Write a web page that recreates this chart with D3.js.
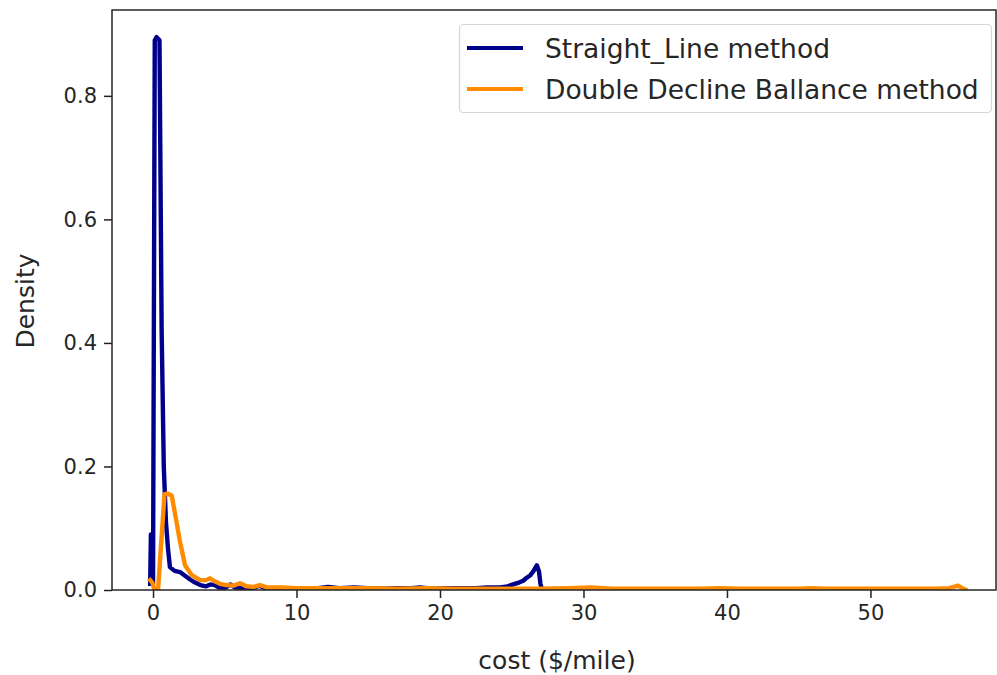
<!DOCTYPE html>
<html><head><meta charset="utf-8">
<script src="https://cdn.jsdelivr.net/npm/d3@7"></script>
<style>
html,body{margin:0;padding:0;background:#fff;}
svg{display:block;font-family:"DejaVu Sans",sans-serif;}
</style></head>
<body><svg id="c" width="997" height="675"></svg>
<script>
// ---- data ----
const seriesNames = ["Straight_Line method", "Double Decline Ballance method"];
const seriesColors = ["#00008b", "#ff8c00"];
const xTicks = [0, 10, 20, 30, 40, 50];
const yTicks = [0.0, 0.2, 0.4, 0.6, 0.8];
const xLabel = "cost ($/mile)";
const yLabel = "Density";

const straightX = [-0.2, -0.15, -0.08, 0.0, 0.12, 0.25, 0.45, 0.6, 0.75, 0.9, 1.05, 1.18, 1.5, 1.88, 2.23, 2.58, 2.93, 3.3, 3.7, 4.0, 4.3, 4.6, 5.0, 5.4, 5.7, 6.1, 6.6, 7.0, 7.4, 7.8, 8.5, 9.5, 10.5, 11.5, 12.2, 13.0, 14.0, 15.0, 16.0, 17.0, 18.0, 18.6, 19.5, 20.5, 21.5, 22.5, 23.3, 24.2, 24.7, 25.1, 25.5, 25.8, 26.0, 26.3, 26.5, 26.75, 26.9, 27.0, 27.1];
const straightY = [0.01, 0.09, 0.088, 0.01, 0.89, 0.895, 0.89, 0.42, 0.2, 0.11, 0.065, 0.037, 0.031, 0.029, 0.023, 0.017, 0.012, 0.008, 0.006, 0.009, 0.008, 0.004, 0.003, 0.009, 0.004, 0.003, 0.004, 0.003, 0.007, 0.003, 0.003, 0.003, 0.002, 0.003, 0.005, 0.003, 0.004, 0.003, 0.002, 0.003, 0.003, 0.004, 0.002, 0.003, 0.003, 0.003, 0.004, 0.004, 0.006, 0.009, 0.012, 0.015, 0.019, 0.024, 0.03, 0.04, 0.03, 0.01, 0.002];

const doubleX = [-0.2, -0.05, 0.1, 0.35, 0.55, 0.8, 1.0, 1.3, 1.6, 1.88, 2.23, 2.7, 3.28, 3.7, 3.97, 4.3, 4.67, 5.1, 5.6, 6.06, 6.5, 7.0, 7.45, 8.0, 9.0, 10.0, 11.0, 12.0, 13.5, 15.0, 17.0, 19.0, 21.0, 23.0, 25.0, 27.0, 29.0, 30.5, 32.0, 34.0, 36.0, 38.0, 39.5, 41.0, 43.0, 45.0, 45.8, 47.0, 49.0, 51.0, 53.0, 54.5, 55.5, 56.1, 56.4, 56.6];
const doubleY = [0.016, 0.012, 0.0, 0.0, 0.07, 0.155, 0.156, 0.153, 0.115, 0.078, 0.04, 0.024, 0.016, 0.016, 0.019, 0.014, 0.01, 0.008, 0.007, 0.011, 0.006, 0.005, 0.008, 0.004, 0.004, 0.003, 0.003, 0.003, 0.003, 0.003, 0.002, 0.003, 0.002, 0.002, 0.002, 0.002, 0.003, 0.004, 0.002, 0.002, 0.002, 0.002, 0.003, 0.002, 0.002, 0.002, 0.003, 0.002, 0.002, 0.002, 0.002, 0.002, 0.003, 0.007, 0.003, 0.001];

// ---- layout ----
const svg = d3.select("#c");
const L = 112, R = 996, T = 10, B = 590;
const x = d3.scaleLinear().domain([-2.86, 58.75]).range([L, R]);
const y = d3.scaleLinear().domain([0, 0.939]).range([B, T]);

const series = [
  {name: seriesNames[0], color: seriesColors[0], pts: straightX.map((v,i)=>[v, straightY[i]])},
  {name: seriesNames[1], color: seriesColors[1], pts: doubleX.map((v,i)=>[v, doubleY[i]])}
];

svg.append("defs").append("clipPath").attr("id","clip")
  .append("rect").attr("x",L).attr("y",T-4).attr("width",R-L).attr("height",B-T+4);

const line = d3.line().x(d=>x(d[0])).y(d=>y(d[1]));
const g = svg.append("g").attr("clip-path","url(#clip)");
series.forEach(s=>{
  g.append("path").datum(s.pts).attr("d", line)
   .attr("fill","none").attr("stroke", s.color).attr("stroke-width", 4.4)
   .attr("stroke-linejoin","round").attr("stroke-linecap","square");
});

// axes
const xAxis = d3.axisBottom(x).tickValues(xTicks).tickFormat(d3.format("d")).tickSize(8).tickPadding(7);
const yAxis = d3.axisLeft(y).tickValues(yTicks).tickFormat(d3.format(".1f")).tickSize(8).tickPadding(7);
const gx = svg.append("g").attr("transform",`translate(0,${B})`).call(xAxis);
const gy = svg.append("g").attr("transform",`translate(${L},0)`).call(yAxis);
[gx, gy].forEach(a=>{
  a.select(".domain").remove();
  a.selectAll(".tick line").attr("stroke","#222").attr("stroke-width",1.5);
  a.selectAll(".tick text").attr("fill","#262626").style("font-size","21px").style("font-family","DejaVu Sans");
});

// spines
svg.append("rect").attr("x",L).attr("y",T).attr("width",R-L).attr("height",B-T)
  .attr("fill","none").attr("stroke","#262626").attr("stroke-width",1.5);

// labels
svg.append("text").attr("x",557).attr("y",669).attr("text-anchor","middle")
  .attr("fill","#262626").style("font-size","25px").text(xLabel);
svg.append("text").attr("transform",`translate(34,${(T+B)/2 + 1}) rotate(-90)`).attr("text-anchor","middle")
  .attr("fill","#262626").style("font-size","25px").text(yLabel);

// legend
const lg = svg.append("g");
lg.append("rect").attr("x",459.5).attr("y",24.5).attr("width",532).attr("height",88).attr("rx",4)
  .attr("fill","#fff").attr("fill-opacity",0.8).attr("stroke","#d6d6d6").attr("stroke-width",1.2);
series.forEach((s,i)=>{
  const yy = 48 + i*41;
  lg.append("line").attr("x1",467).attr("x2",523).attr("y1",yy).attr("y2",yy)
    .attr("stroke",s.color).attr("stroke-width",4);
  lg.append("text").attr("x",545).attr("y",yy).attr("dy","0.36em")
    .attr("fill","#262626").style("font-size","26.5px").text(s.name);
});
</script>
</body></html>
